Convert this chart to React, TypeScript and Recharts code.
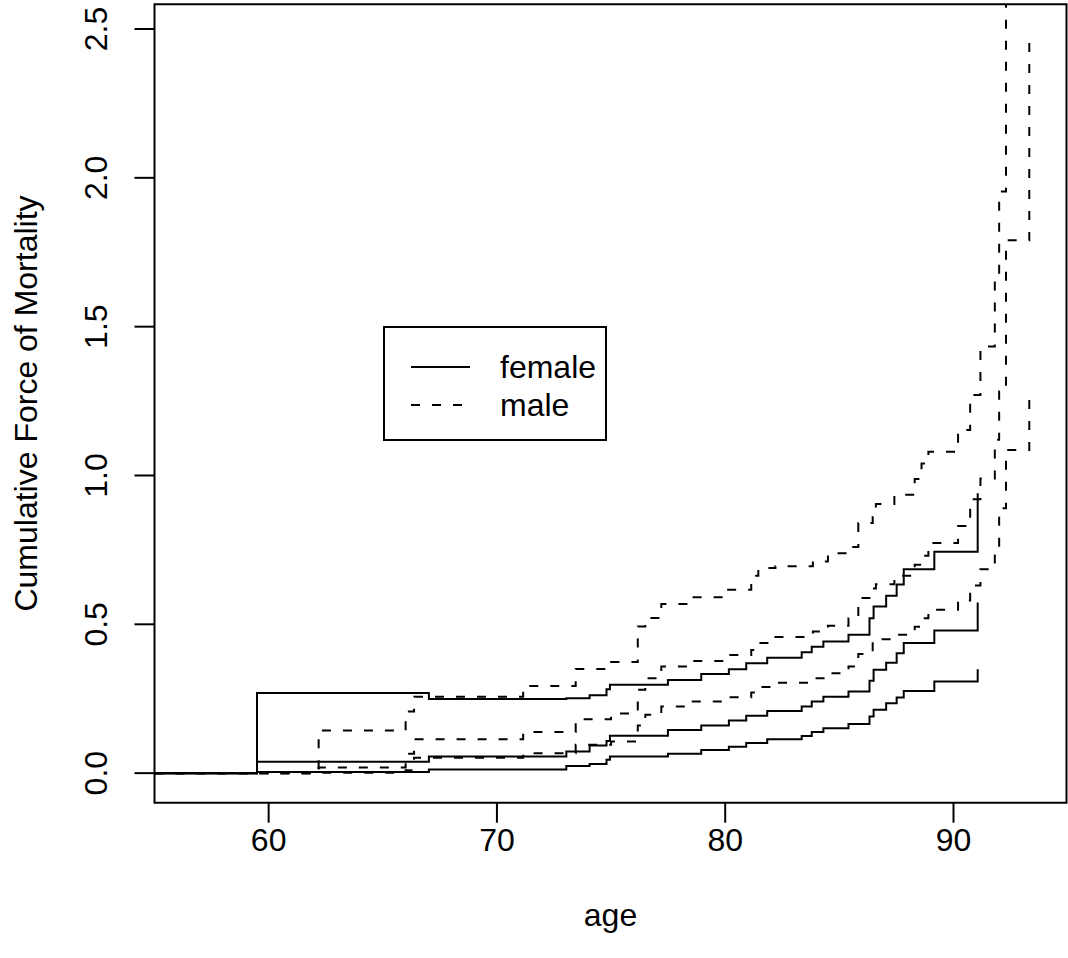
import React from "react";
import { LineChart, Line, XAxis, YAxis, ReferenceArea, Legend, Label } from "recharts";

// ---- data ----
const femaleAges = [55, 59.49, 67.02, 73.04, 74.06, 74.8, 74.95, 77.49, 78.95, 80.16, 80.92, 81.84, 83.35, 83.79, 84.3, 85.4, 86.32, 86.5, 87.05, 87.51, 87.82, 89.16, 91.06];
const femaleEst = [0, 0.038, 0.056, 0.073, 0.093, 0.108, 0.126, 0.145, 0.16, 0.177, 0.193, 0.209, 0.224, 0.241, 0.257, 0.274, 0.31, 0.347, 0.371, 0.403, 0.437, 0.479, 0.573];
const femaleLower = [0, 0.004, 0.012, 0.024, 0.031, 0.045, 0.056, 0.065, 0.078, 0.089, 0.101, 0.114, 0.125, 0.138, 0.151, 0.165, 0.19, 0.213, 0.235, 0.254, 0.276, 0.308, 0.349];
const femaleUpper = [0, 0.269, 0.249, 0.252, 0.262, 0.282, 0.297, 0.313, 0.333, 0.349, 0.369, 0.388, 0.406, 0.425, 0.442, 0.465, 0.52, 0.56, 0.596, 0.634, 0.685, 0.744, 0.94];

const maleAges = [55, 62.19, 66.0, 66.37, 71.15, 73.45, 75.0, 76.17, 76.5, 77.2, 78.5, 80.0, 81.14, 81.45, 82.2, 83.84, 84.5, 85.4, 85.83, 86.46, 86.6, 87.41, 88.3, 88.6, 88.9, 90.2, 90.73, 91.18, 91.81, 92.0, 92.3, 93.32];
const maleEst = [0, 0.019, 0.065, 0.114, 0.138, 0.181, 0.2, 0.28, 0.319, 0.358, 0.377, 0.397, 0.414, 0.437, 0.457, 0.476, 0.495, 0.52, 0.588, 0.62, 0.635, 0.663, 0.7, 0.73, 0.773, 0.83, 0.92, 0.99, 1.12, 1.282, 1.79, 2.487];
const maleLower = [0, 0.001, 0.01, 0.052, 0.067, 0.095, 0.106, 0.16, 0.196, 0.224, 0.241, 0.255, 0.271, 0.289, 0.304, 0.319, 0.336, 0.358, 0.4, 0.44, 0.45, 0.465, 0.492, 0.52, 0.549, 0.58, 0.63, 0.685, 0.76, 0.89, 1.086, 1.28];
const maleUpper = [0, 0.143, 0.207, 0.257, 0.293, 0.35, 0.373, 0.493, 0.521, 0.568, 0.591, 0.616, 0.663, 0.689, 0.695, 0.711, 0.739, 0.76, 0.84, 0.873, 0.904, 0.935, 0.988, 1.04, 1.08, 1.153, 1.27, 1.433, 1.674, 1.954, 3.3, 4.6];

const ageTicks = [60, 70, 80, 90];
const hazardTicks = [0, 0.5, 1, 1.5, 2, 2.5];
const hazardTickLabels = ["0.0", "0.5", "1.0", "1.5", "2.0", "2.5"];
const legendLabels = ["female", "male"];

const xDomain: [number, number] = [55, 94.95];
const yDomain: [number, number] = [-0.0993, 2.583];

const toPoints = (ages: number[], vals: number[]) => ages.map((a, i) => ({ age: a, value: vals[i] }));

const DASH = "9 12";
const FONT = "'Liberation Sans', Arial, Helvetica, sans-serif";
const FS = 32;
const LW = 2;

const series = [
  { key: "fU", data: toPoints(femaleAges, femaleUpper), dash: undefined },
  { key: "fE", data: toPoints(femaleAges, femaleEst), dash: undefined },
  { key: "fL", data: toPoints(femaleAges, femaleLower), dash: undefined },
  { key: "mU", data: toPoints(maleAges, maleUpper), dash: DASH },
  { key: "mE", data: toPoints(maleAges, maleEst), dash: DASH },
  { key: "mL", data: toPoints(maleAges, maleLower), dash: DASH },
];

const XTick = (props: any) => {
  const { x, y, payload } = props;
  return (
    <text x={x} y={y} dy={26} textAnchor="middle" fontSize={FS} fontFamily={FONT} fill="#000">
      {payload.value}
    </text>
  );
};

const YTick = (props: any) => {
  const { x, y, payload } = props;
  const cx = x - 36;
  const idx = hazardTicks.indexOf(payload.value);
  return (
    <text
      x={cx}
      y={y}
      transform={`rotate(-90 ${cx} ${y})`}
      textAnchor="middle"
      dominantBaseline="central"
      fontSize={FS}
      fontFamily={FONT}
      fill="#000"
    >
      {idx >= 0 ? hazardTickLabels[idx] : payload.value}
    </text>
  );
};

const LegendBox = () => (
  <svg width={226} height={117} style={{ display: "block" }}>
    <rect x={1} y={1} width={222} height={113} fill="#fff" stroke="#000" strokeWidth={LW} />
    <line x1={28} x2={87} y1={41} y2={41} stroke="#000" strokeWidth={LW} />
    <line x1={28} x2={87} y1={79} y2={79} stroke="#000" strokeWidth={LW} strokeDasharray={DASH} />
    <text x={117} y={41} dominantBaseline="central" fontSize={FS} fontFamily={FONT} fill="#000">
      {legendLabels[0]}
    </text>
    <text x={117} y={79} dominantBaseline="central" fontSize={FS} fontFamily={FONT} fill="#000">
      {legendLabels[1]}
    </text>
  </svg>
);

export default function App() {
  return (
    <div style={{ position: "absolute", left: 0, top: 0, width: 1068, height: 958, background: "#fff" }}>
      <LineChart width={1068} height={958} margin={{ top: 4.3, right: 1.5, bottom: 0, left: 0 }}>
        <XAxis
          type="number"
          dataKey="age"
          domain={xDomain}
          allowDataOverflow
          ticks={ageTicks}
          interval={0}
          height={155.3}
          tickSize={20}
          axisLine={false}
          stroke="#000"
          tickLine={{ stroke: "#000", strokeWidth: LW }}
          tick={<XTick />}
        >
          <Label
            content={(p: any) => {
              const vb = p.viewBox || { x: 154.5, y: 802.7, width: 912 };
              return (
                <text x={vb.x + vb.width / 2} y={vb.y + 123} textAnchor="middle" fontSize={FS} fontFamily={FONT} fill="#000">
                  age
                </text>
              );
            }}
          />
        </XAxis>
        <YAxis
          type="number"
          domain={yDomain}
          allowDataOverflow
          ticks={hazardTicks}
          interval={0}
          width={154.5}
          tickSize={20}
          axisLine={false}
          stroke="#000"
          tickLine={{ stroke: "#000", strokeWidth: LW }}
          tick={<YTick />}
        >
          <Label
            content={(p: any) => {
              const vb = p.viewBox || { x: 0, y: 4.3, height: 798.4 };
              const cy = vb.y + vb.height / 2;
              return (
                <text
                  x={37}
                  y={cy}
                  transform={`rotate(-90 37 ${cy})`}
                  textAnchor="middle"
                  fontSize={FS}
                  fontFamily={FONT}
                  fill="#000"
                >
                  Cumulative Force of Mortality
                </text>
              );
            }}
          />
        </YAxis>
        {series.map((s) => (
          <Line
            key={s.key}
            data={s.data}
            dataKey="value"
            type="stepAfter"
            stroke="#000"
            strokeWidth={LW}
            strokeDasharray={s.dash}
            dot={false}
            activeDot={false}
            isAnimationActive={false}
          />
        ))}
        <ReferenceArea
          x1={xDomain[0]}
          x2={xDomain[1]}
          y1={yDomain[0]}
          y2={yDomain[1]}
          fill="none"
          fillOpacity={0}
          stroke="#000"
          strokeWidth={LW}
          ifOverflow="visible"
        />
        <Legend
          layout="horizontal"
          verticalAlign="middle"
          align="center"
          wrapperStyle={{ position: "absolute", left: 383, top: 326, width: 226, height: 117, margin: 0, padding: 0 }}
          content={() => <LegendBox />}
        />
      </LineChart>
    </div>
  );
}
